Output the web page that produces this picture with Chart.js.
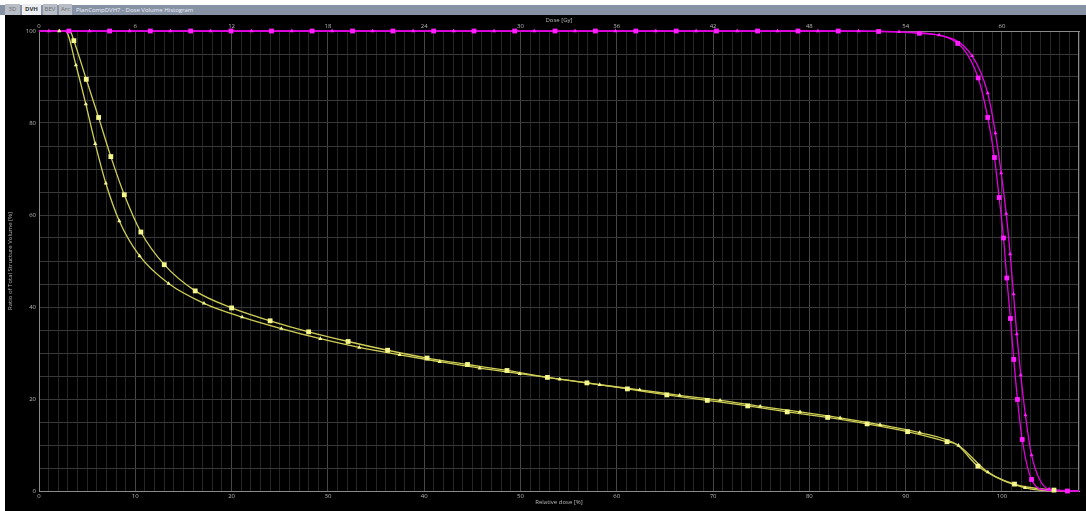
<!DOCTYPE html>
<html><head><meta charset="utf-8">
<script src="https://cdn.jsdelivr.net/npm/chart.js@4/dist/chart.umd.min.js"></script>
<style>
html,body{margin:0;padding:0;background:#fff;width:1086px;height:511px;overflow:hidden;font-family:"Open Sans",sans-serif}
#bar{position:absolute;left:0;top:5px;width:1086px;height:10px;background:#8792a4}
.tab{position:absolute;top:4px;height:11px;font-size:6px;line-height:11px;text-align:center;color:#6a6e76;background:#b9bdc5}
#dvh{background:#eceef2;color:#333;font-weight:bold}
#ttl{position:absolute;left:76px;top:5px;height:10px;font-size:6px;line-height:10px;color:#e9eef8}
#wrap{position:absolute;left:5px;top:15px;width:1081px;height:496px;background:#000}
canvas{display:block}
</style></head>
<body>
<div id="bar"></div>
<div class="tab" style="left:5px;width:15px">3D</div>
<div class="tab" id="dvh" style="left:22px;width:19px">DVH</div>
<div class="tab" style="left:43px;width:14px">BEV</div>
<div class="tab" style="left:59px;width:13px">Arc</div>
<div id="ttl">PlanCompDVH7 - Dose Volume Histogram</div>
<div id="wrap"><canvas id="c" width="1081" height="496"></canvas></div>
<script>
// ---- tick labels ----
const relDoseLabels = [0,10,20,30,40,50,60,70,80,90,100];
const doseGyLabels = [0,6,12,18,24,30,36,42,48,54,60];
const volumeLabels = [0,20,40,60,80,100];

// ---- yellow, squares ----
const ySqDose = [3.62,4.91,6.19,7.46,8.86,10.58,13.01,16.22,20.0,24.0,28.0,32.1,36.2,40.3,44.5,48.6,52.8,56.9,61.1,65.2,69.4,73.6,77.7,81.9,86.0,90.2,94.3,97.5,101.3,105.4];
const ySqVol  = [97.9,89.5,81.2,72.7,64.4,56.3,49.2,43.5,39.8,37.0,34.6,32.5,30.6,28.9,27.5,26.2,24.7,23.5,22.2,20.9,19.7,18.5,17.2,16.0,14.6,12.9,10.7,5.4,1.5,0.2];
const ySqLineDose = [0,3.2,95.3,108];
const ySqLineVol  = [100,100,10.1,0];

// ---- yellow, triangles ----
const yTriDose = [2.10,3.83,4.86,5.84,6.94,8.34,10.45,13.46,17.13,21.09,25.16,29.21,33.26,37.46,41.62,45.77,49.93,54.07,58.23,62.38,66.53,70.73,74.89,79.03,83.19,87.34,91.46,95.48,98.53,102.4];
const yTriVol  = [100,92.6,84.1,75.5,66.9,58.7,51.1,45.1,40.8,37.8,35.3,33.1,31.2,29.6,28.1,26.7,25.5,24.3,23.1,22.0,20.8,19.7,18.4,17.2,15.9,14.4,12.7,9.9,4.1,0.7];
const yTriLineDose = [0,2.75,106.5,108];
const yTriLineVol  = [100,100,0,0];

// ---- magenta, squares ----
const mSqDose = [3.10,7.33,11.56,15.75,19.94,24.14,28.36,32.56,36.75,40.98,45.17,49.40,53.59,57.78,61.98,66.17,70.35,74.62,78.82,83.0,87.19,91.42,95.41,97.53,98.52,99.22,99.71,100.16,100.50,100.88,101.23,101.61,102.10,103.07,106.8];
const mSqVol  = [100,100,100,100,100,100,100,100,100,100,100,100,100,100,100,100,100,100,100,100,99.9,99.5,97.3,89.8,81.2,72.5,63.8,55.0,46.3,37.5,28.6,19.9,11.2,2.5,0];
const mSqLineDose = [0,104.6,108];
const mSqLineVol  = [100,0.2,0];

// ---- magenta, triangles ----
const mTriDose = [1.02,5.25,9.41,13.64,17.83,22.06,26.25,30.44,34.64,38.86,43.06,47.25,51.43,55.67,59.86,64.05,68.24,72.51,76.69,80.89,85.11,89.31,93.47,96.90,98.52,99.32,99.92,100.44,100.85,101.20,101.54,101.95,102.44,103.07,104.9];
const mTriVol  = [100,100,100,100,100,100,100,100,100,100,100,100,100,100,100,100,100,100,100,100,100,99.8,99.1,94.6,86.5,77.8,69.1,60.3,51.5,42.8,34.1,25.2,16.5,7.8,0.4];
const mTriLineDose = [0,108];
const mTriLineVol  = [100,0];

const pts = (xs, ys) => xs.map((x, i) => ({x, y: ys[i]}));
const linePts = (xs, ys, ex, ey) => pts(xs, ys).concat(pts(ex, ey)).sort((a, b) => a.x - b.x);

const YL = '#cfcf55', YM = '#f6f68e', ML = '#e200e2', MM = '#ff1eff';
function lineDs(data, color, order) {
  return {data, showLine: true, borderColor: color, borderWidth: 1.3, pointRadius: 0,
    cubicInterpolationMode: 'monotone', fill: false, order, clip: false};
}
function markDs(data, color, style, r, order) {
  return {data, showLine: false, pointStyle: style, pointRadius: r, pointBackgroundColor: color,
    pointBorderColor: color, pointBorderWidth: 0, order, clip: false};
}

const datasets = [
  markDs(pts(ySqDose, ySqVol), YM, 'rect', 3.4, 1),
  markDs(pts(yTriDose, yTriVol), YM, 'triangle', 2.4, 1),
  markDs(pts(mSqDose, mSqVol), MM, 'rect', 3.4, 2),
  markDs(pts(mTriDose, mTriVol), MM, 'triangle', 2.4, 2),
  lineDs(linePts(mSqDose, mSqVol, mSqLineDose, mSqLineVol), ML, 3),
  lineDs(linePts(mTriDose, mTriVol, mTriLineDose, mTriLineVol), ML, 3),
  lineDs(linePts(ySqDose, ySqVol, ySqLineDose, ySqLineVol), YL, 4),
  lineDs(linePts(yTriDose, yTriVol, yTriLineDose, yTriLineVol), YL, 4)
];

const FONT = {family: '"Open Sans", "DejaVu Sans", sans-serif', size: 6};
const LBL = '#b8b8b8';

const frame = {
  id: 'frame',
  beforeDatasetsDraw(chart) {
    const {ctx, chartArea: a} = chart;
    ctx.save();
    ctx.strokeStyle = '#8a8a8a';
    ctx.lineWidth = 1;
    ctx.strokeRect(Math.round(a.left) + 0.5, Math.round(a.top) + 0.5, Math.round(a.right - a.left) - 1, Math.round(a.bottom - a.top));
    ctx.restore();
  }
};

new Chart(document.getElementById('c'), {
  type: 'scatter',
  data: {datasets},
  plugins: [frame],
  options: {
    responsive: false, animation: false, devicePixelRatio: 1,
    layout: {padding: {left: 0, right: 7, top: 0, bottom: 0}},
    plugins: {legend: {display: false}, tooltip: {enabled: false}},
    scales: {
      x: {
        type: 'linear', position: 'bottom', min: 0, max: 108,
        afterBuildTicks(s) { s.ticks = Array.from({length: 109}, (_, i) => ({value: i})); },
        afterFit(s) { s.height = 20; },
        ticks: {autoSkip: false, maxRotation: 0, minRotation: 0, padding: 2, color: LBL, font: FONT,
          callback: v => relDoseLabels.includes(v) ? String(v) : ''},
        grid: {drawTicks: false, lineWidth: 1,
          color: c => (c.tick && c.tick.value % 10 === 0) ? '#474747' : '#262626'},
        border: {display: true, color: '#a8a8a8'},
        title: {display: true, text: 'Relative dose [%]', color: LBL, font: FONT, padding: {top: 0, bottom: 5}}
      },
      x2: {
        type: 'linear', position: 'top', min: 0, max: 64.8,
        afterBuildTicks(s) { s.ticks = doseGyLabels.map(v => ({value: v})); },
        afterFit(s) { s.height = 16; },
        ticks: {autoSkip: false, maxRotation: 0, minRotation: 0, padding: 1, color: LBL, font: FONT},
        grid: {display: false, drawTicks: false},
        border: {display: true, color: '#8a8a8a'},
        title: {display: true, text: 'Dose [Gy]', color: LBL, font: FONT, padding: {top: 1.4, bottom: 0}}
      },
      y: {
        type: 'linear', min: 0, max: 100,
        afterBuildTicks(s) { s.ticks = Array.from({length: 21}, (_, i) => ({value: i * 5})); },
        afterFit(s) { s.width = 34; },
        ticks: {autoSkip: false, padding: 3, color: LBL, font: FONT,
          callback: v => volumeLabels.includes(v) ? String(v) : ''},
        grid: {drawTicks: false, lineWidth: 1, color: '#383838'},
        border: {display: true, color: '#8a8a8a'},
        title: {display: true, text: 'Ratio of Total Structure Volume [%]', color: LBL, font: FONT, padding: {top: 1.5, bottom: 0}}
      }
    }
  }
});
</script>
</body></html>
